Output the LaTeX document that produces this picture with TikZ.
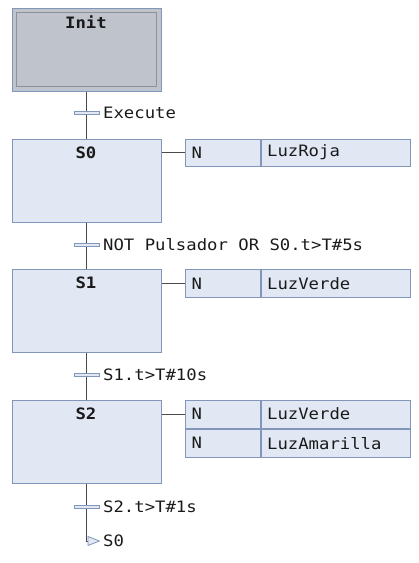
\documentclass[tikz,border=0pt]{standalone}
\usepackage{fontspec}
\setmainfont{DejaVu Sans Mono}[FakeStretch=1.1]
\definecolor{stepfill}{HTML}{E1E8F4}
\definecolor{stepdraw}{HTML}{8196B9}
\definecolor{initfill}{HTML}{BFC3CB}
\definecolor{initin}{HTML}{8C919A}
\definecolor{linec}{HTML}{4A4A4A}
\definecolor{textc}{HTML}{1A1A1A}
\begin{document}
\begin{tikzpicture}[x=1pt,y=-1pt,
  every node/.style={font=\fontsize{15.7}{18}\selectfont, text=textc},
  stepbox/.style={draw=stepdraw, fill=stepfill, line width=1.1pt, minimum width=149pt, minimum height=83pt, inner sep=0pt, anchor=north west},
  initouter/.style={draw=stepdraw, fill=initfill, line width=1.1pt, minimum width=149pt, minimum height=83pt, inner sep=0pt, anchor=north west},
  initinner/.style={draw=initin, line width=1.1pt, minimum width=140pt, minimum height=73.5pt, inner sep=0pt},
  steplbl/.style={font=\fontsize{15.7}{18}\selectfont\bfseries, inner sep=0pt},
  bar/.style={draw=stepdraw, fill=stepfill, line width=0.8pt, minimum width=25pt, minimum height=3pt, inner sep=0pt},
  trlbl/.style={anchor=base west, inner sep=0pt},
  actq/.style={draw=stepdraw, fill=stepfill, line width=1.1pt, minimum width=74.5pt, minimum height=#1, inner xsep=6pt, inner ysep=0pt, text width=62.5pt, align=left, anchor=north west},
  actv/.style={draw=stepdraw, fill=stepfill, line width=1.1pt, minimum width=149pt, minimum height=#1, inner xsep=6pt, inner ysep=0pt, text width=137pt, align=left, anchor=north west},
  link/.style={draw=linec, line width=0.9pt}
]
\useasboundingbox (0,0) rectangle (419,563);

\node[initouter] (init) at (11.5,7.5) {};
\node[initinner] (initin) at (init.center) {};
\node[steplbl] (initlbl) at (86,22) {Init};

\node[stepbox] (s0) at (11.5,138.5) {};
\node[steplbl] (s0lbl) at (86,152.5) {S0};
\node[stepbox] (s1) at (11.5,269) {};
\node[steplbl] (s1lbl) at (86,283) {S1};
\node[stepbox] (s2) at (11.5,399.5) {};
\node[steplbl] (s2lbl) at (86,414) {S2};

\draw[link] (init.south) -- (s0.north);
\draw[link] (s0.south) -- (s1.north);
\draw[link] (s1.south) -- (s2.north);
\coordinate (jt) at (88,541);
\draw[link] (s2.south) |- (jt);

% transitions
\node[bar] (t1) at (86.5,113) {};
\node[trlbl] (t1l) at (103,118.8) {Execute};
\node[bar] (t2) at (86.5,245) {};
\node[trlbl] (t2l) at (103,250.8) {NOT Pulsador OR S0.t>T\#5s};
\node[bar] (t3) at (86.5,375) {};
\node[trlbl] (t3l) at (103,380.8) {S1.t>T\#10s};
\node[bar] (t4) at (86.5,506.5) {};
\node[trlbl] (t4l) at (103,512.3) {S2.t>T\#1s};

% jump
\draw[draw=stepdraw, fill=stepfill, line width=0.8pt, line join=round] (jt) ++(0,-4.5) -- ++(11.5,4.5) -- ++(-11.5,4.5) -- cycle;
\node[trlbl] (jl) at (103,546.8) {S0};

% actions
\node[actq=27pt] (a0n) at (185,138.5) {N};
\node[actv=27pt] (a0v) at (a0n.north east) {LuzRoja};
\draw[link] (s0.east |- a0n.west) -- (a0n.west);

\node[actq=28pt] (a1n) at (185,269) {N};
\node[actv=28pt] (a1v) at (a1n.north east) {LuzVerde};
\draw[link] (s1.east |- a1n.west) -- (a1n.west);

\node[actq=28pt] (a2n) at (185,399.5) {N};
\node[actv=28pt] (a2v) at (a2n.north east) {LuzVerde};
\node[actq=28pt] (a2n2) at (a2n.south west) {N};
\node[actv=28pt] (a2v2) at (a2n2.north east) {LuzAmarilla};
\draw[link] (s2.east |- a2n.west) -- (a2n.west);
\end{tikzpicture}
\end{document}
